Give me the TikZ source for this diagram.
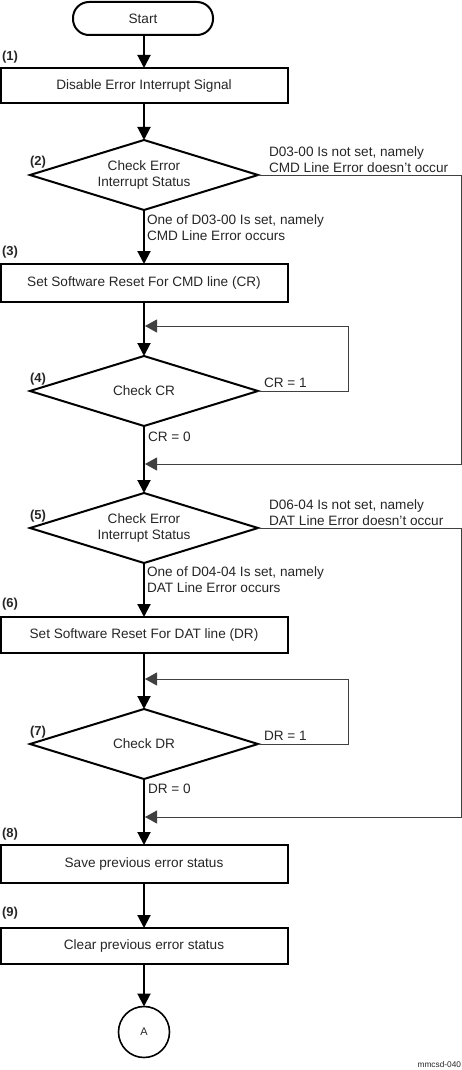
\documentclass[tikz,border=0pt]{standalone}
\usepackage{fontspec}
\setmainfont{Liberation Sans}
\usetikzlibrary{arrows.meta,shapes.geometric}
\definecolor{txt}{HTML}{262626}
\definecolor{loopc}{HTML}{404040}
\begin{document}
\begin{tikzpicture}[x=1pt,y=-1pt,
  every node/.style={inner sep=0pt,outer sep=0pt,text=txt,font=\fontsize{13.6}{16}\selectfont},
  stepbox/.style={draw=black,line width=2pt,minimum width=287pt,minimum height=36pt},
  decide/.style={draw=black,line width=2pt,diamond,aspect=3.26,minimum width=228pt,minimum height=70pt,align=center},
  startbox/.style={draw=black,line width=2pt,rounded corners=16pt,minimum width=140pt,minimum height=33pt},
  conn/.style={draw=black,line width=2pt,-{Triangle[length=13pt,width=13pt]}},
  back/.style={draw=loopc,line width=1pt,-{Triangle[length=12pt,width=13pt,fill=loopc]}},
  num/.style={anchor=west,font=\bfseries\fontsize{13}{15}\selectfont},
  lbl/.style={anchor=west,align=left},
]
\useasboundingbox (0,0) rectangle (462,1070);
% nodes
\node[startbox] (start) at (143,18.5) {Start};
\node[stepbox,minimum height=35pt] (b1) at (144,85.5) {Disable Error Interrupt Signal};
\node[decide] (d2) at (144,175) {Check Error\\Interrupt Status};
\node[stepbox,minimum height=38pt] (b3) at (144,283) {Set Software Reset For CMD line (CR)};
\node[decide] (d4) at (144,391) {Check CR};
\node[decide] (d5) at (144,528) {Check Error\\Interrupt Status};
\node[stepbox] (b6) at (144,635) {Set Software Reset For DAT line (DR)};
\node[decide] (d7) at (144,744) {Check DR};
\node[stepbox,minimum height=38pt] (b8) at (144,864) {Save previous error status};
\node[stepbox] (b9) at (144,946) {Clear previous error status};
\node[draw=black,line width=1.6pt,circle,minimum size=51pt,font=\fontsize{11}{13}\selectfont] (a) at (144,1032) {A};
% step numbers
\node[num] (n1) at (2,57) {(1)};
\node[num] (n2) at (30,162) {(2)};
\node[num] (n3) at (2,252) {(3)};
\node[num] (n4) at (30,379) {(4)};
\node[num] (n5) at (30,516) {(5)};
\node[num] (n6) at (2,604) {(6)};
\node[num] (n7) at (30,732) {(7)};
\node[num] (n8) at (2,834) {(8)};
\node[num] (n9) at (2,913) {(9)};
% branch labels
\node[lbl] (l2r) at (269,159.5) {D03-00 Is not set, namely\\CMD Line Error doesn't occur};
\node[lbl] (l2d) at (147,228) {One of D03-00 Is set, namely\\CMD Line Error occurs};
\node[lbl] (l4r) at (264,383) {CR = 1};
\node[lbl] (l4d) at (148,437) {CR = 0};
\node[lbl] (l5r) at (269,513) {D06-04 Is not set, namely\\DAT Line Error doesn't occur};
\node[lbl] (l5d) at (147,580) {One of D04-04 Is set, namely\\DAT Line Error occurs};
\node[lbl] (l7r) at (264,736) {DR = 1};
\node[lbl] (l7d) at (148,789) {DR = 0};
\node[anchor=east,font=\fontsize{8.3}{10}\selectfont] (id) at (461,1065) {mmcsd-040};
% coordinates
\coordinate (j1) at (145,326);
\coordinate (j2) at (145,464);
\coordinate (j3) at (145,679);
\coordinate (j4) at (145,817);
\coordinate (r2) at (461,175);
\coordinate (r4) at (348,391);
\coordinate (r5) at (461,528);
\coordinate (r7) at (348,744);
% main flow
\draw[conn] (start.south -| b1.north) -- (b1.north);
\draw[conn] (b1.south) -- (d2.north);
\draw[conn] (d2.south) -- (b3.north);
\draw[conn] (b3.south) -- (d4.north);
\draw[conn] (d4.south) -- (d5.north);
\draw[conn] (d5.south) -- (b6.north);
\draw[conn] (b6.south) -- (d7.north);
\draw[conn] (d7.south) -- (b8.north);
\draw[conn] (b8.south) -- (b9.north);
\draw[conn] (b9.south) -- (a.north);
% side branches
\draw[back] (d2.east) -- (r2) |- (j2);
\draw[back] (d4.east) -- (r4) |- (j1);
\draw[back] (d5.east) -- (r5) |- (j4);
\draw[back] (d7.east) -- (r7) |- (j3);
\end{tikzpicture}
\end{document}
